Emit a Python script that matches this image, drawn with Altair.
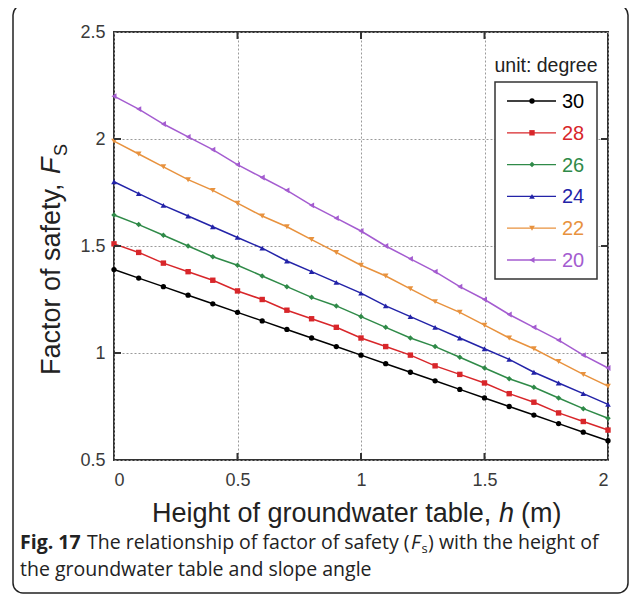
import altair as alt
import pandas as pd

# ---- data ----
h = [0.0, 0.1, 0.2, 0.3, 0.4, 0.5, 0.6, 0.7, 0.8, 0.9, 1.0,
     1.1, 1.2, 1.3, 1.4, 1.5, 1.6, 1.7, 1.8, 1.9, 2.0]
angles = ["30", "28", "26", "24", "22", "20"]
fs30 = [1.39, 1.35, 1.31, 1.27, 1.23, 1.19, 1.15, 1.11, 1.07, 1.03, 0.99,
        0.95, 0.91, 0.87, 0.83, 0.79, 0.75, 0.71, 0.67, 0.63, 0.59]
fs28 = [1.51, 1.47, 1.42, 1.38, 1.34, 1.29, 1.25, 1.20, 1.16, 1.12, 1.07,
        1.03, 0.99, 0.94, 0.90, 0.86, 0.81, 0.77, 0.72, 0.68, 0.64]
fs26 = [1.645, 1.60, 1.55, 1.50, 1.45, 1.41, 1.36, 1.31, 1.26, 1.22, 1.17,
        1.12, 1.07, 1.03, 0.98, 0.93, 0.88, 0.84, 0.79, 0.74, 0.695]
fs24 = [1.80, 1.745, 1.69, 1.64, 1.59, 1.54, 1.49, 1.43, 1.38, 1.33, 1.28,
        1.22, 1.17, 1.12, 1.07, 1.02, 0.97, 0.91, 0.86, 0.81, 0.76]
fs22 = [1.99, 1.93, 1.87, 1.81, 1.76, 1.70, 1.64, 1.59, 1.53, 1.47, 1.41,
        1.36, 1.30, 1.24, 1.19, 1.13, 1.07, 1.02, 0.96, 0.90, 0.845]
fs20 = [2.20, 2.14, 2.07, 2.01, 1.95, 1.88, 1.82, 1.76, 1.69, 1.63, 1.57,
        1.50, 1.44, 1.38, 1.31, 1.25, 1.18, 1.12, 1.06, 0.99, 0.93]
series = [fs30, fs28, fs26, fs24, fs22, fs20]
x_ticks = [0, 0.5, 1, 1.5, 2]
y_ticks = [0.5, 1, 1.5, 2, 2.5]
x_inner = [0.5, 1, 1.5]
y_inner = [1, 1.5, 2]

# ---- styles ----
colors = ["#000000", "#d8262a", "#2f8a48", "#2323a8", "#e8923e", "#a45cd0"]
shapes = ["circle", "square", "diamond", "triangle-up", "triangle-down", "triangle-left"]
sizes = [28, 34, 16, 30, 28, 34]

W, H = 494, 428

rows = []
for a, vals in zip(angles, series):
    for xv, yv in zip(h, vals):
        rows.append({"h": xv, "Fs": yv, "angle": a})
df = pd.DataFrame(rows)

color_scale = alt.Scale(domain=angles, range=colors)
shape_scale = alt.Scale(domain=angles, range=shapes)
size_scale = alt.Scale(domain=angles, range=sizes)
color_enc = alt.Color("angle:N", scale=color_scale, legend=None)
shape_enc = alt.Shape("angle:N", scale=shape_scale, legend=None)
size_enc = alt.Size("angle:N", scale=size_scale, legend=None)

axis_common = dict(title=None, grid=True, tickSize=0, domain=False,
                   labelFontSize=18, labelColor="#3a3a3a", labelFont="Liberation Sans",
                   gridColor="#9a9a9a", gridDash=[2, 2], gridWidth=1, format="~g")
x_enc = alt.X("h:Q", scale=alt.Scale(domain=[0, 2], nice=False),
              axis=alt.Axis(values=x_ticks, labelPadding=11, **axis_common))
y_enc = alt.Y("Fs:Q", scale=alt.Scale(domain=[0.5, 2.5], nice=False, zero=False),
              axis=alt.Axis(values=y_ticks, labelPadding=9, **axis_common))

one = pd.DataFrame({"k": [0]})

layers = []

# outer figure border
layers.append(alt.Chart(one).mark_rect(fillOpacity=0, stroke="#222", strokeWidth=1.5,
                                       cornerRadius=10).encode(
    x=alt.value(-101), x2=alt.value(514), y=alt.value(-27), y2=alt.value(561)))

lines = alt.Chart(df).mark_line(strokeWidth=1.5).encode(x=x_enc, y=y_enc, color=color_enc)
points = alt.Chart(df).mark_point(filled=True, opacity=1).encode(
    x=x_enc, y=y_enc, color=color_enc, shape=shape_enc, size=size_enc)
layers += [lines, points]

# inward ticks
tx = pd.DataFrame({"h": x_inner})
ty = pd.DataFrame({"Fs": y_inner})
tick_style = dict(color="#333", strokeWidth=2)
layers.append(alt.Chart(tx).mark_rule(**tick_style).encode(x=x_enc, y=alt.value(H), y2=alt.value(H - 7)))
layers.append(alt.Chart(tx).mark_rule(**tick_style).encode(x=x_enc, y=alt.value(0), y2=alt.value(7)))
layers.append(alt.Chart(ty).mark_rule(**tick_style).encode(y=y_enc, x=alt.value(0), x2=alt.value(7)))
layers.append(alt.Chart(ty).mark_rule(**tick_style).encode(y=y_enc, x=alt.value(W), x2=alt.value(W - 7)))

# legend (manual)
layers.append(alt.Chart(one).mark_rect(fill="white", stroke="#333", strokeWidth=1.5).encode(
    x=alt.value(381), x2=alt.value(483), y=alt.value(50), y2=alt.value(247)))
layers.append(alt.Chart(one).mark_text(text="unit: degree", fontSize=19.5, font="Liberation Sans",
                                       color="#222", align="center", baseline="middle").encode(
    x=alt.value(432), y=alt.value(34)))
for i, a in enumerate(angles):
    d = pd.DataFrame({"angle": [a]})
    ry = 69 + 31.8 * i
    layers.append(alt.Chart(d).mark_rule(strokeWidth=1.3).encode(
        x=alt.value(393), x2=alt.value(442), y=alt.value(ry), color=color_enc))
    layers.append(alt.Chart(d).mark_point(filled=True, opacity=1).encode(
        x=alt.value(418), y=alt.value(ry), color=color_enc, shape=shape_enc, size=size_enc))
    layers.append(alt.Chart(d).mark_text(align="left", baseline="middle", fontSize=20,
                                         font="Liberation Sans").encode(
        x=alt.value(448), y=alt.value(ry + 1), text="angle:N", color=color_enc))

# axis titles
tf = dict(font="Liberation Sans", fontSize=27, color="#222", baseline="alphabetic")
layers.append(alt.Chart(one).mark_text(text="Height of groundwater table,", align="left", **tf).encode(
    x=alt.value(38), y=alt.value(490)))
layers.append(alt.Chart(one).mark_text(text="h", align="left", fontStyle="italic", **tf).encode(
    x=alt.value(385), y=alt.value(490)))
layers.append(alt.Chart(one).mark_text(text="(m)", align="left", **tf).encode(
    x=alt.value(407), y=alt.value(490)))

layers.append(alt.Chart(one).mark_text(text="Factor of safety,", align="left", angle=270, **tf).encode(
    x=alt.value(-54), y=alt.value(343)))
layers.append(alt.Chart(one).mark_text(text="F", align="left", angle=270, fontStyle="italic", **tf).encode(
    x=alt.value(-54), y=alt.value(142)))
layers.append(alt.Chart(one).mark_text(text="S", align="left", angle=270, font="Liberation Sans",
                                       fontSize=18, color="#222", baseline="alphabetic").encode(
    x=alt.value(-47), y=alt.value(124)))

# caption
cf = dict(font="Open Sans", fontSize=19.5, color="#222", baseline="alphabetic", align="left")
layers.append(alt.Chart(one).mark_text(text="Fig. 17", fontWeight="bold", **cf).encode(
    x=alt.value(-94), y=alt.value(517)))
layers.append(alt.Chart(one).mark_text(text="The relationship of factor of safety (", **cf).encode(
    x=alt.value(-27), y=alt.value(517)))
layers.append(alt.Chart(one).mark_text(text="F", fontStyle="italic", **cf).encode(
    x=alt.value(297), y=alt.value(517)))
layers.append(alt.Chart(one).mark_text(text="s", font="Open Sans", fontSize=13, color="#222",
                                       baseline="alphabetic", align="left").encode(
    x=alt.value(307.5), y=alt.value(521)))
layers.append(alt.Chart(one).mark_text(text=")", **cf).encode(
    x=alt.value(314), y=alt.value(517)))
layers.append(alt.Chart(one).mark_text(text="with the height of", **cf).encode(
    x=alt.value(325), y=alt.value(517)))
layers.append(alt.Chart(one).mark_text(text="the groundwater table and slope angle", **cf).encode(
    x=alt.value(-94), y=alt.value(544)))

chart = alt.layer(*layers).properties(
    width=W, height=H,
    padding={"left": 106, "top": 24, "right": 21, "bottom": 136},
    autosize=alt.AutoSizeParams(type="none"),
    background="white",
).configure_view(stroke="#333", strokeWidth=2)

chart.save("out.html", embed_options={"renderer": "svg", "actions": False})
